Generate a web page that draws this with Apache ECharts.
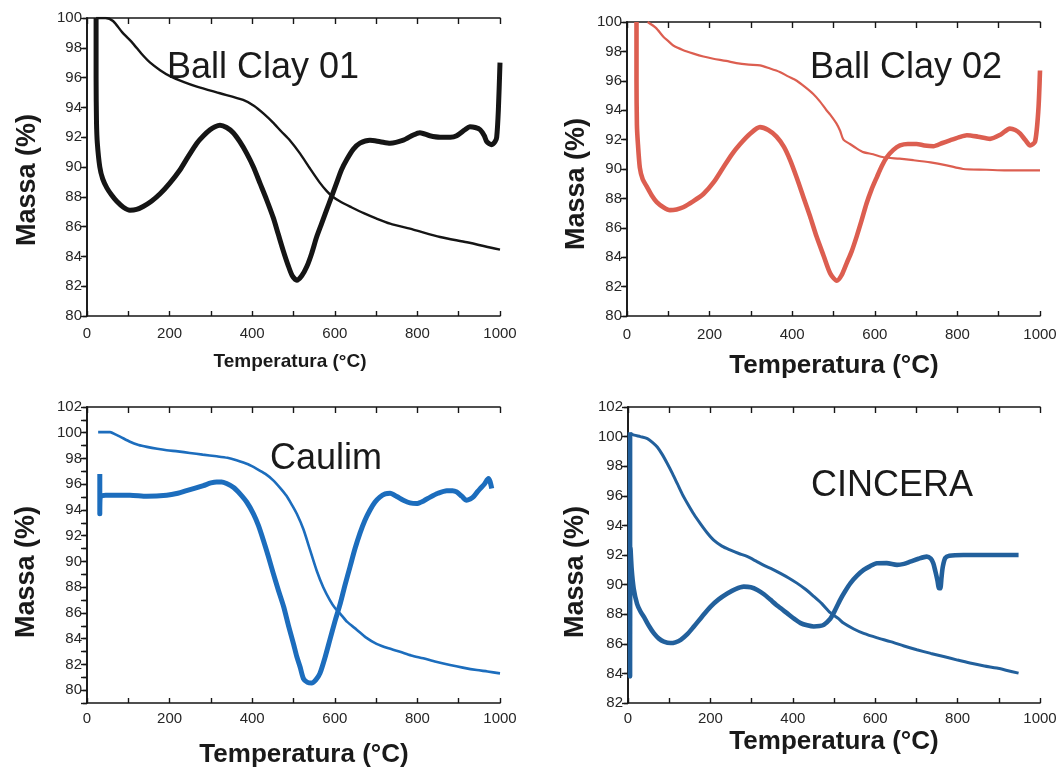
<!DOCTYPE html>
<html>
<head>
<meta charset="utf-8">
<title>Análise termogravimétrica</title>
<script src="https://cdn.jsdelivr.net/npm/echarts@6/dist/echarts.min.js"></script>
<style>
  html, body { margin: 0; padding: 0; background: #ffffff; }
  #chart { width: 1060px; height: 774px; }
</style>
</head>
<body>
<div id="chart"></div>
<script>
// Temperature axis (°C) shared by the four panels
const tempRange = [0, 1000];
const tempLabelStep = 200;

// Mass axis ranges (%) for each panel
const massRangeBC01 = [80, 100];
const massRangeBC02 = [80, 100];
const massRangeCaulim = [79, 102];
const massRangeCincera = [82, 102];

// Panel names
const panelNames = ['Ball Clay 01', 'Ball Clay 02', 'Caulim', 'CINCERA'];

// Ball Clay 01: mass-loss curve [T °C, massa %]
const bc01Tg = [[22,100],[45,100],[63,99.8],[85,99.05],[111,98.3],[132,97.6],[153,97.0],[177,96.5],[201,96.1],[235,95.7],[266,95.4],[322,94.95],[378,94.5],[405,94.1],[427,93.6],[450,93.0],[470,92.4],[491,91.8],[516,90.9],[540,89.9],[565,88.9],[580,88.4],[595,88.0],[615,87.65],[640,87.3],[670,86.9],[700,86.55],[734,86.2],[790,85.8],[855,85.3],[920,84.95],[976,84.6],[1000,84.45]];
// Ball Clay 01: derivative curve
const bc01Dtg = [[22,100],[22,96],[23,93],[25,91.6],[31,90.0],[38,89.2],[48,88.6],[60,88.1],[72,87.7],[88,87.3],[104,87.1],[120,87.15],[136,87.35],[156,87.7],[177,88.2],[200,88.9],[225,89.8],[245,90.7],[266,91.6],[282,92.1],[298,92.5],[310,92.7],[322,92.8],[338,92.65],[354,92.3],[370,91.7],[387,90.9],[403,90.0],[419,88.9],[435,87.8],[451,86.6],[463,85.5],[475,84.4],[487,83.4],[497,82.7],[508,82.4],[520,82.7],[532,83.3],[544,84.2],[556,85.3],[568,86.2],[580,87.1],[592,88.0],[604,88.9],[616,89.8],[629,90.5],[645,91.2],[661,91.6],[685,91.8],[710,91.7],[734,91.6],[766,91.8],[790,92.15],[806,92.3],[830,92.1],[855,92.0],[880,92.0],[895,92.1],[915,92.5],[927,92.7],[940,92.65],[952,92.5],[962,92.1],[968,91.7],[980,91.5],[988,91.7],[992,92.0],[996,93.8],[1000,97.0]];

// Ball Clay 02
const bc02Tg = [[50,100],[70,99.6],[88,99.0],[100,98.7],[112,98.4],[135,98.1],[161,97.85],[185,97.65],[209,97.5],[240,97.35],[265,97.2],[295,97.1],[322,97.05],[345,96.85],[370,96.6],[390,96.3],[411,96.0],[430,95.6],[451,95.1],[467,94.6],[483,94.0],[492,93.7],[507,93.1],[516,92.6],[524,92.0],[540,91.7],[556,91.4],[572,91.15],[596,91.0],[621,90.8],[660,90.7],[693,90.6],[735,90.45],[774,90.25],[814,90.0],[870,89.95],[919,89.9],[1000,89.9]];
const bc02Dtg = [[23,100],[23,96],[24,93],[26,91.9],[31,90.1],[38,89.3],[48,88.8],[60,88.2],[72,87.75],[88,87.4],[104,87.2],[120,87.25],[136,87.4],[160,87.8],[185,88.3],[210,89.1],[233,90.1],[254,91.0],[274,91.7],[298,92.4],[322,92.85],[342,92.65],[362,92.2],[380,91.5],[395,90.6],[411,89.4],[427,88.1],[443,86.8],[459,85.4],[476,84.1],[492,82.9],[508,82.4],[520,82.8],[532,83.6],[544,84.4],[556,85.4],[568,86.5],[580,87.65],[592,88.6],[605,89.45],[617,90.2],[629,90.8],[645,91.3],[661,91.6],[680,91.7],[701,91.7],[720,91.6],[742,91.55],[762,91.75],[782,91.95],[803,92.15],[823,92.3],[850,92.2],[879,92.05],[905,92.35],[927,92.75],[940,92.65],[952,92.4],[965,91.95],[976,91.6],[988,91.85],[996,94.0],[1000,96.7]];

// Caulim
const caulimTg = [[27,100.05],[56,100.05],[70,99.85],[80,99.7],[104,99.3],[125,99.05],[145,98.9],[170,98.75],[193,98.64],[220,98.55],[249,98.43],[280,98.3],[314,98.17],[340,98.05],[362,97.86],[390,97.55],[411,97.2],[432,96.8],[451,96.3],[468,95.7],[483,95.1],[496,94.4],[508,93.7],[524,92.5],[540,90.9],[556,89.3],[572,88.0],[588,87.0],[600,86.4],[613,85.95],[630,85.3],[653,84.7],[675,84.1],[701,83.6],[730,83.25],[758,82.98],[785,82.7],[814,82.47],[845,82.2],[879,81.95],[910,81.75],[944,81.56],[970,81.45],[1000,81.3]];
const caulimDtg = [[31,96.8],[31,93.7],[32,95.0],[45,95.15],[64,95.14],[104,95.14],[145,95.06],[193,95.14],[220,95.3],[241,95.5],[262,95.7],[282,95.9],[300,96.1],[314,96.18],[326,96.18],[338,96.05],[355,95.75],[370,95.27],[387,94.6],[403,93.7],[415,92.8],[427,91.65],[439,90.4],[451,89.07],[463,87.8],[476,86.5],[488,85.0],[500,83.6],[508,82.6],[516,81.8],[524,80.9],[534,80.6],[544,80.55],[554,80.8],[564,81.3],[576,82.5],[588,83.9],[600,85.3],[613,86.7],[625,88.2],[637,89.6],[649,91.0],[661,92.2],[673,93.2],[685,93.98],[697,94.6],[709,95.0],[722,95.25],[734,95.3],[750,95.05],[766,94.76],[782,94.55],[798,94.5],[815,94.7],[831,95.0],[850,95.3],[871,95.5],[885,95.5],[895,95.4],[908,95.05],[919,94.76],[928,94.85],[935,95.0],[945,95.4],[952,95.66],[962,96.0],[972,96.44],[976,96.2],[980,95.66]];

// CINCERA
const cinceraTg = [[5,100.2],[15,100.1],[30,100.0],[47,99.87],[60,99.6],[71,99.3],[83,98.8],[95,98.2],[108,97.5],[120,96.8],[132,96.1],[144,95.5],[160,94.75],[176,94.1],[192,93.5],[208,93.0],[228,92.6],[249,92.33],[269,92.1],[289,91.9],[310,91.6],[330,91.3],[350,91.05],[370,90.76],[390,90.45],[410,90.1],[430,89.7],[451,89.2],[471,88.7],[491,88.1],[511,87.7],[523,87.4],[548,87.0],[572,86.7],[605,86.4],[637,86.15],[670,85.85],[701,85.6],[735,85.35],[766,85.14],[800,84.9],[830,84.7],[865,84.5],[895,84.36],[920,84.2],[948,84.02]];
const cinceraDtg = [[5,100.3],[5,83.8],[6,92.5],[9,91.0],[14,89.7],[22,88.7],[30,88.2],[39,87.8],[51,87.2],[63,86.7],[75,86.35],[87,86.15],[103,86.05],[115,86.1],[128,86.27],[144,86.65],[160,87.17],[180,87.85],[200,88.5],[220,89.0],[241,89.4],[261,89.7],[281,89.86],[298,89.82],[314,89.64],[330,89.35],[346,88.97],[366,88.5],[386,88.07],[403,87.7],[419,87.4],[435,87.25],[451,87.17],[465,87.2],[475,87.28],[491,87.7],[499,88.07],[515,88.97],[527,89.55],[540,90.1],[556,90.6],[572,90.99],[588,91.25],[604,91.44],[628,91.45],[653,91.33],[670,91.4],[685,91.55],[705,91.75],[725,91.89],[735,91.75],[741,91.44],[746,90.9],[751,90.3],[755,89.75],[758,89.75],[761,90.5],[764,91.2],[770,91.8],[780,91.95],[814,92.0],[880,92.0],[948,92.0]];

const FONT = '"Liberation Sans", Arial, sans-serif';
const INK = '#161616';

// Layout of the four plot frames
const panels = [
  { grid: { left: 87, top: 18, width: 413, height: 298 }, range: massRangeBC01, step: 2,
    tg: bc01Tg, dtg: bc01Dtg, color: '#151515', tgWidth: 2.4, dtgWidth: 5, labelGap: 10 },
  { grid: { left: 627, top: 22, width: 413, height: 294 }, range: massRangeBC02, step: 2,
    tg: bc02Tg, dtg: bc02Dtg, color: '#dc5e50', tgWidth: 2.2, dtgWidth: 4.6, labelGap: 11 },
  { grid: { left: 87, top: 407, width: 413, height: 296 }, range: massRangeCaulim, step: 1,
    tg: caulimTg, dtg: caulimDtg, color: '#1c6dbd', tgWidth: 2.6, dtgWidth: 5, labelGap: 8 },
  { grid: { left: 628, top: 407, width: 412, height: 296 }, range: massRangeCincera, step: 2,
    tg: cinceraTg, dtg: cinceraDtg, color: '#22609c', tgWidth: 3, dtgWidth: 4.6, labelGap: 8 }
];

const axisLine = { show: true, lineStyle: { color: INK, width: 1.6 } };
const grids = [], xAxes = [], yAxes = [], series = [];

panels.forEach((p, i) => {
  grids.push(Object.assign({ containLabel: false }, p.grid));
  // bottom temperature axis with labels
  xAxes.push({
    type: 'value', gridIndex: i, position: 'bottom',
    min: tempRange[0], max: tempRange[1], interval: 100,
    axisLine, splitLine: { show: false },
    axisTick: { inside: true, length: 5, lineStyle: { color: INK, width: 1.4 } },
    axisLabel: {
      margin: p.labelGap, color: '#262626', fontFamily: FONT, fontSize: 15,
      formatter: v => (v % tempLabelStep === 0 ? String(v) : '')
    }
  });
  // top frame edge
  xAxes.push({
    type: 'value', gridIndex: i, position: 'top',
    min: tempRange[0], max: tempRange[1], interval: 100,
    axisLine, splitLine: { show: false }, axisLabel: { show: false },
    axisTick: { inside: true, length: 6, lineStyle: { color: INK, width: 1.4 } }
  });
  // left mass axis with labels
  yAxes.push({
    type: 'value', gridIndex: i, position: 'left',
    min: p.range[0], max: p.range[1], interval: p.step,
    axisLine, splitLine: { show: false },
    axisTick: { inside: false, length: 4, lineStyle: { color: INK, width: 1.4 } },
    axisLabel: {
      margin: 5, color: '#262626', fontFamily: FONT, fontSize: 15,
      formatter: v => (v % 2 === 0 ? String(v) : '')
    }
  });
  // right frame edge
  yAxes.push({
    type: 'value', gridIndex: i, position: 'right',
    min: p.range[0], max: p.range[1], interval: p.step,
    axisLine, splitLine: { show: false }, axisLabel: { show: false },
    axisTick: { inside: true, length: 6, lineStyle: { color: INK, width: 1.4 } }
  });

  const xi = i * 2, yi = i * 2;
  series.push({
    type: 'line', xAxisIndex: xi, yAxisIndex: yi, data: p.tg,
    showSymbol: false, smooth: 0.25, clip: true,
    lineStyle: { color: p.color, width: p.tgWidth }
  });
  series.push({
    type: 'line', xAxisIndex: xi, yAxisIndex: yi, data: p.dtg,
    showSymbol: false, smooth: 0.25, clip: true,
    lineStyle: { color: p.color, width: p.dtgWidth, join: 'round' }
  });
});

// Panel captions and axis titles
const captionStyle = { fill: '#1a1a1a', font: '36px ' + FONT, textAlign: 'center', textVerticalAlign: 'middle' };
const captions = [
  { x: 263, y: 68 }, { x: 906, y: 68 }, { x: 326, y: 459 }, { x: 892, y: 486 }
];
const yTitles = [
  { x: 28, y: 180 }, { x: 577, y: 184 }, { x: 27, y: 572 }, { x: 576, y: 572 }
];
const xTitles = [
  { x: 290, y: 362, size: 19 }, { x: 834, y: 366, size: 26 },
  { x: 304, y: 755, size: 26 }, { x: 834, y: 742, size: 26 }
];

const graphic = [];
captions.forEach((c, i) => graphic.push({
  type: 'text', x: c.x, y: c.y, silent: true,
  style: Object.assign({ text: panelNames[i] }, captionStyle)
}));
yTitles.forEach(t => graphic.push({
  type: 'text', x: t.x, y: t.y, rotation: Math.PI / 2, silent: true,
  style: { text: 'Massa (%)', fill: '#1a1a1a', font: 'bold 27px ' + FONT, textAlign: 'center', textVerticalAlign: 'middle' }
}));
xTitles.forEach(t => graphic.push({
  type: 'text', x: t.x, y: t.y, silent: true,
  style: { text: 'Temperatura (°C)', fill: '#1a1a1a', font: 'bold ' + t.size + 'px ' + FONT, textAlign: 'center', textVerticalAlign: 'middle' }
}));

const chart = echarts.init(document.getElementById('chart'), null, { renderer: 'canvas' });
chart.setOption({
  backgroundColor: '#ffffff',
  animation: false,
  grid: grids,
  xAxis: xAxes,
  yAxis: yAxes,
  series,
  graphic
});
</script>
</body>
</html>
